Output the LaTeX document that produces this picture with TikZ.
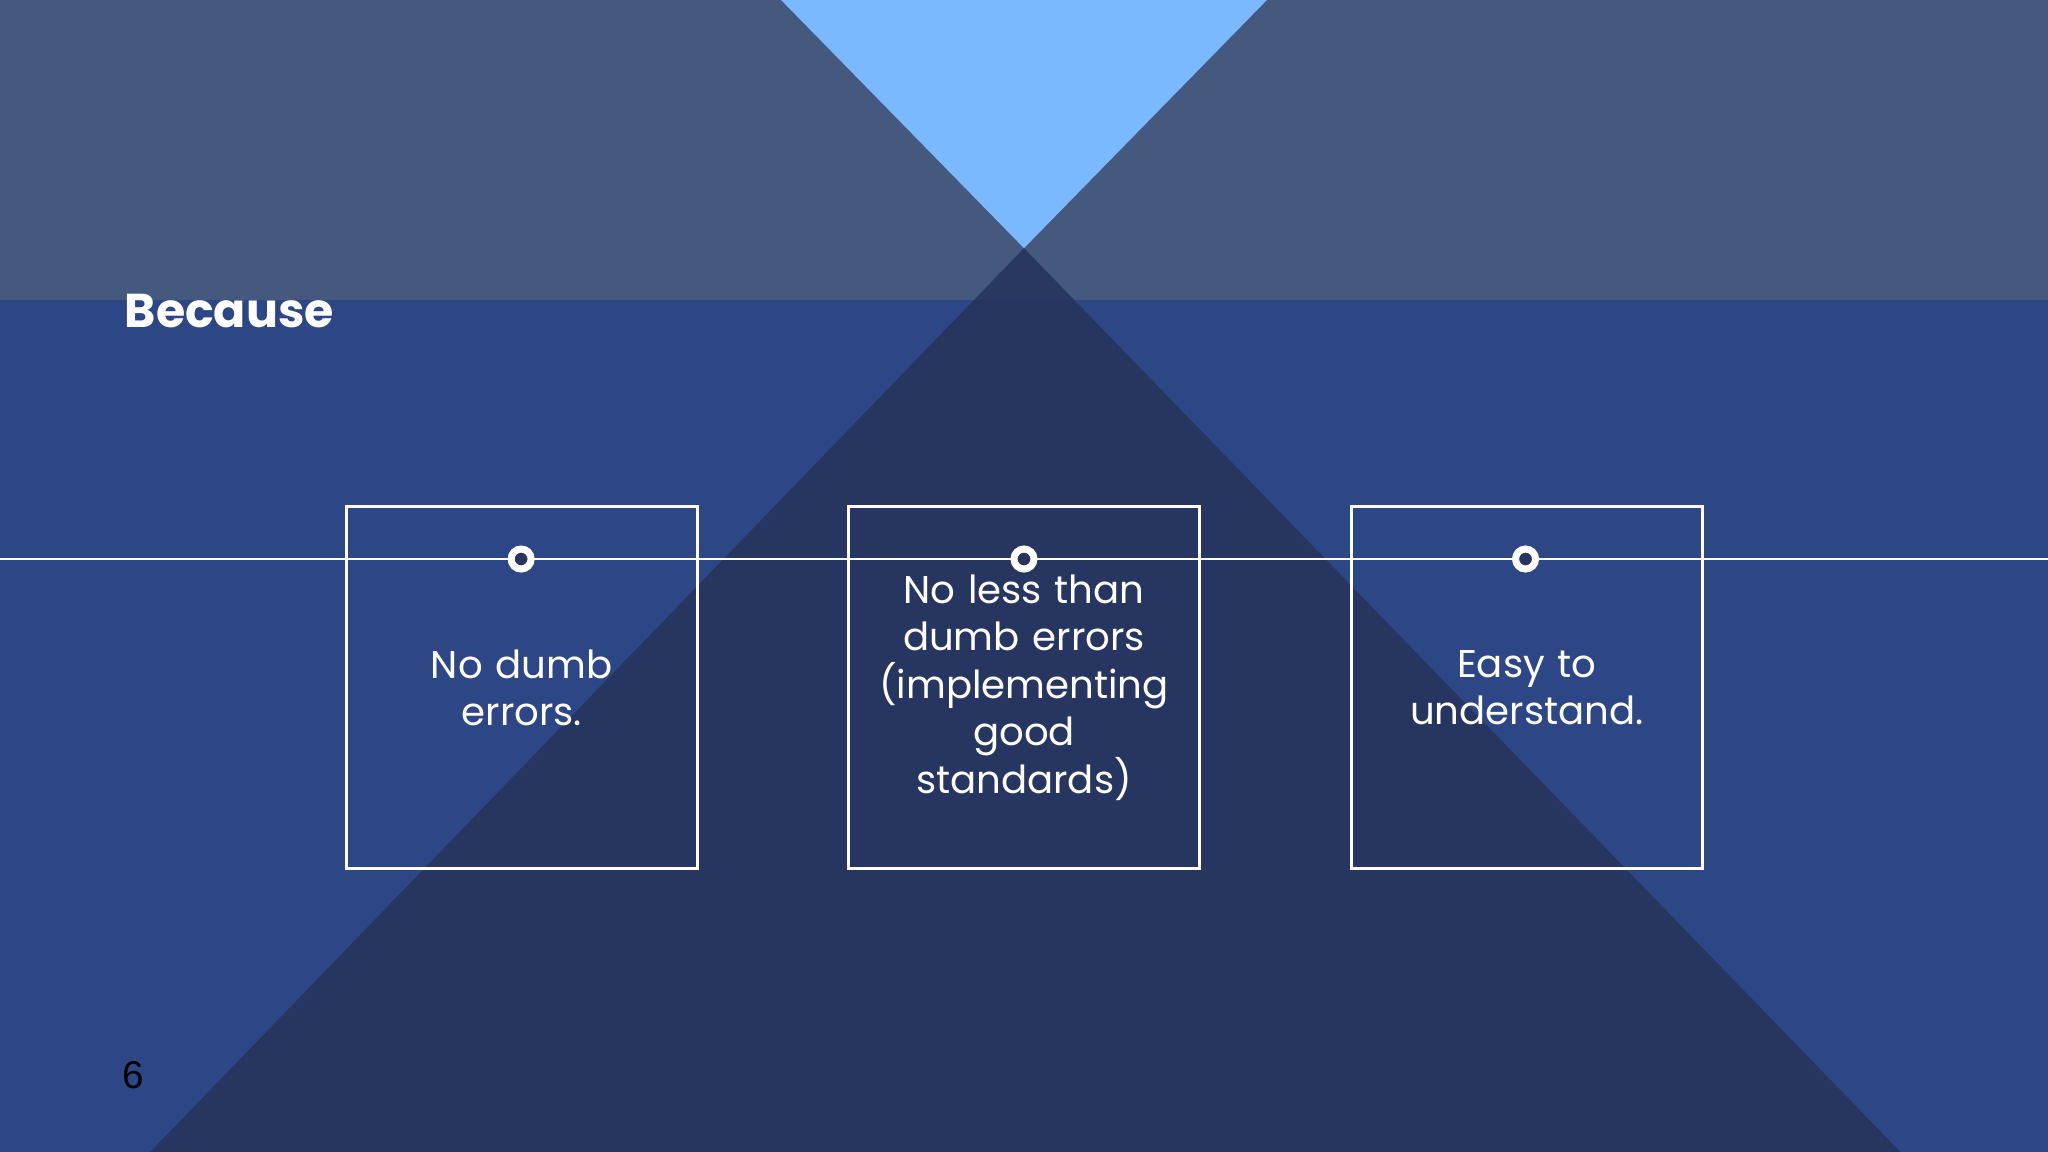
\documentclass[tikz,border=0pt]{standalone}
\usepackage{fontspec}
\setmainfont{Poppins}
\newfontfamily\numfont{Liberation Sans}
\usetikzlibrary{positioning}
\definecolor{sea}{HTML}{2C4686}
\definecolor{sky}{HTML}{45597F}
\definecolor{lightbeam}{HTML}{7AB8FF}
\definecolor{darkbeam}{HTML}{27355E}
\tikzset{
  pointbox/.style={draw=white, line width=0.9pt, minimum width=3.513cm, minimum height=3.618cm,
    text width=3.2cm, align=center, text=white, font=\fontsize{11}{13.5}\selectfont},
  dotmark/.style={circle, draw=white, line width=2pt, fill=darkbeam, minimum size=0.2cm, inner sep=0pt}
}
\begin{document}
\begin{tikzpicture}[x=0.01306cm,y=-0.01306cm]

  % ----- Background -----
  \fill[sea] (0,0) rectangle (1568,882);
  \fill[sky] (0,0) rectangle (1568,230);
  \fill[lightbeam] (598,0) -- (970,0) -- (784,190) -- cycle;
  \fill[darkbeam, opacity=0.9] (784,190) -- (1455,882) -- (115,882) -- cycle;
  \useasboundingbox (0,0) rectangle (1568,882);

  % ----- Title -----
  \node[anchor=west, inner sep=0pt, text=white, font=\fontsize{13.5}{16}\selectfont\bfseries] (title) at (95,238) {Because};

  % ----- Timeline -----
  \coordinate (lineL) at (0,428);
  \coordinate (lineR) at (1568,428);
  \draw[white, line width=0.8pt] (lineL) -- (lineR);

  % ----- Boxes -----
  \node[pointbox] (box1) at (399.5,526.5) {No dumb\\errors.};
  \node[pointbox] (box2) at (784,526.5) {No less than\\dumb errors\\(implementing\\good\\standards)};
  \node[pointbox] (box3) at (1169,526.5) {Easy to\\understand.};

  % ----- Dots -----
  \node[dotmark] (dot1) at (399,428) {};
  \node[dotmark] (dot2) at (784,428) {};
  \node[dotmark] (dot3) at (1168,428) {};

  % ----- Page number -----
  \node[font=\numfont\fontsize{11}{13}\selectfont, text=black] (page) at (102,823) {6};

\end{tikzpicture}
\end{document}
